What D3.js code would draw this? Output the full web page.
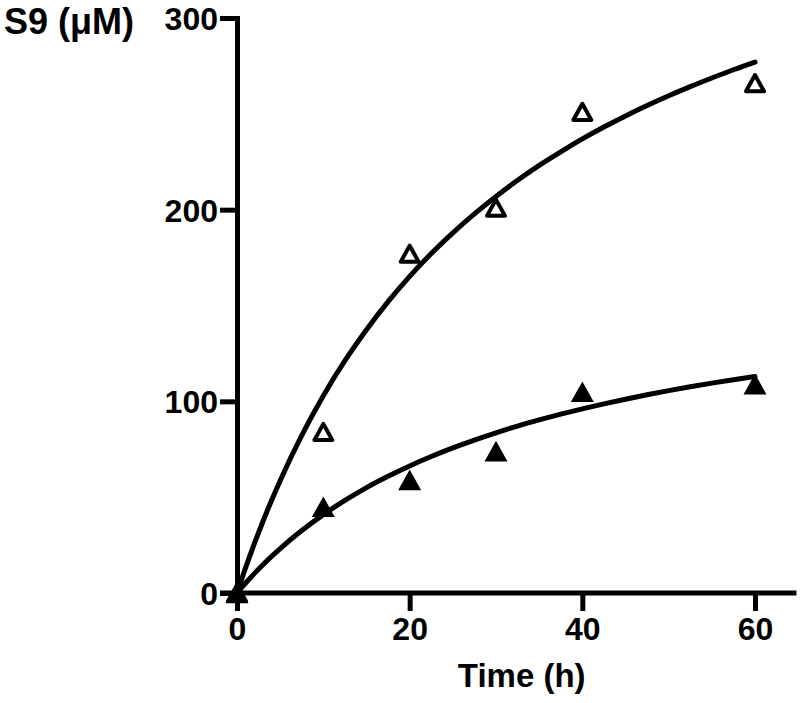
<!DOCTYPE html>
<html><head><meta charset="utf-8">
<script src="https://cdn.jsdelivr.net/npm/d3@7"></script>
<style>
html,body{margin:0;padding:0;background:#fff;}
text{font-family:"Liberation Sans",Arial,sans-serif;font-weight:bold;fill:#000;}
</style></head>
<body><svg id="c" width="800" height="703"></svg>
<script>
// Data
const times = [0, 10, 20, 30, 40, 60];
const openTri = [0, 84, 177, 201, 251, 266];
const filledTri = [0, 45, 59, 74, 105, 109];
// Fitted curves
const curveX = [0,1,2,3,4,5,7.5,10,12.5,15,17.5,20,22.5,25,27.5,30,32.5,35,37.5,40,42.5,45,47.5,50,52.5,55,57.5,60];
const curveUpper = [0,13.2,25.6,37.3,48.3,58.6,82.2,102.9,121.2,137.4,152.0,165.2,177.1,187.9,197.8,206.9,215.3,223.1,230.2,236.9,243.1,248.9,254.3,259.4,264.2,268.7,273.0,277.0];
const curveLower = [0,5.2,10.1,14.7,19.1,23.2,32.6,40.9,48.3,55.0,60.9,66.3,71.2,75.7,79.8,83.6,87.1,90.3,93.3,96.1,98.7,101.1,103.4,105.6,107.6,109.5,111.3,113.0];
const xTicks = [0, 20, 40, 60];
const yTicks = [0, 100, 200, 300];
const xTitle = "Time (h)";
const yTitle = "S9 (μM)";

const svg = d3.select("#c");
const x = d3.scaleLinear().domain([0, 60]).range([237, 755]);
const y = d3.scaleLinear().domain([0, 300]).range([593, 18]);

// curves
const line = d3.line().x(d => x(d[0])).y(d => y(d[1])).curve(d3.curveMonotoneX);
[curveUpper, curveLower].forEach(c => {
  svg.append("path").attr("d", line(curveX.map((v, i) => [v, c[i]])))
    .attr("fill", "none").attr("stroke", "#000").attr("stroke-width", 5)
    .attr("stroke-linecap", "round");
});

// axes
const ya = svg.append("g").attr("transform", `translate(${x(0)},0)`)
  .call(d3.axisLeft(y).tickValues(yTicks).tickSize(17).tickSizeOuter(0).tickPadding(2));
ya.select(".domain").attr("stroke-width", 5).attr("stroke-linecap", "square");
ya.selectAll(".tick line").attr("stroke-width", 5);
ya.selectAll(".tick text").style("font-size", "32px").attr("font-family", null).attr("dy", "0.36em");

const xa = svg.append("g").attr("transform", `translate(0,${y(0)})`)
  .call(d3.axisBottom(x).tickValues(xTicks).tickSize(18).tickSizeOuter(0).tickPadding(6));
xa.select(".domain").remove();
xa.append("line").attr("x1", x(0) - 17).attr("x2", x(64.8)).attr("y1", 0).attr("y2", 0)
  .attr("stroke", "#000").attr("stroke-width", 5);
xa.selectAll(".tick line").attr("stroke-width", 5);
xa.selectAll(".tick text").style("font-size", "32px").attr("font-family", null);

// titles
svg.append("text").attr("x", (x(0) + x(64.8)) / 2 + 5).attr("y", 687).attr("text-anchor", "middle")
  .style("font-size", "33px").text(xTitle);
svg.append("text").attr("x", 4).attr("y", 34).style("font-size", "36px").text(yTitle);

// markers
function tri(w) {
  const h = w * 0.9;
  return `M0,${-h/2}L${w/2},${h/2}L${-w/2},${h/2}Z`;
}
svg.append("g").selectAll("path").data(times.map((t, i) => [t, openTri[i]])).join("path")
  .attr("transform", d => `translate(${x(d[0])},${y(d[1])})`)
  .attr("d", tri(18)).attr("fill", "#fff").attr("stroke", "#000").attr("stroke-width", 4)
  .attr("stroke-linejoin", "round");
svg.append("g").selectAll("path").data(times.map((t, i) => [t, filledTri[i]])).join("path")
  .attr("transform", d => `translate(${x(d[0])},${y(d[1])})`)
  .attr("d", tri(23)).attr("fill", "#000");
</script></body></html>
